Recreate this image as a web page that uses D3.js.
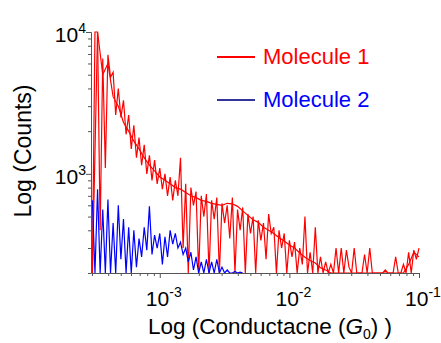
<!DOCTYPE html>
<html>
<head>
<meta charset="utf-8">
<script src="https://cdn.jsdelivr.net/npm/d3@7"></script>
<style>
  body { margin: 0; background: #fff; }
  svg { display: block; font-family: "Liberation Sans", Arial, sans-serif; }
</style>
</head>
<body>
<div id="chart"></div>
<script>
// bins are log-spaced; values are counts
const binStart = -3.52
const fineStep = 0.02
const coarseStep = 0.04

// Molecule 1, spiky run
const molecule1Spiky = [
  150, 10000, 10000, 400, 6500, 1100, 6900, 4800, 5200, 2600,
  4000, 2500, 3300, 1900, 2600, 1500, 2200, 1300, 1800, 1150,
  1600, 1000, 1350, 900, 1250, 850, 1100, 780, 1000, 700,
  950, 650, 900, 700, 1300, 300, 850, 200, 800, 600,
  750, 180, 700, 500, 720, 150, 650, 480, 680, 160,
  620, 450, 600, 350, 680, 170, 560, 400, 580, 200,
  520, 380, 500, 160, 470, 340, 450, 250, 520, 380,
  420, 200, 400, 300, 380, 180, 340, 260, 330, 150,
  300, 230, 500, 190, 280, 200, 420, 150, 260, 200,
  240, 150, 230, 150, 300, 150, 300, 150, 290, 220,
  150, 300, 150, 150, 150, 270, 150, 300, 150, 150,
  150, 150, 150, 210, 150, 150, 150, 260, 150, 150,
  230, 150, 280, 200, 290, 250, 300
]

// Molecule 1, smoother run
const molecule1Smooth = [
  150, 10000, 5000, 6000, 3500, 3000, 2300, 2000, 1700, 1500,
  1300, 1150, 1050, 950, 900, 850, 800, 780, 740, 700,
  680, 650, 640, 620, 610, 600, 620, 615, 590, 548,
  510, 475, 455, 420, 400, 380, 355, 336, 315, 300,
  277, 258, 245, 235, 218, 210, 200, 150, 150, 150,
  150, 150, 150, 150, 150, 150, 150, 150, 150, 150,
  150, 230, 280, 260
]

// Molecule 2
const molecule2 = [
  650, 150, 780, 150, 560, 200, 660, 150, 450, 170,
  600, 250, 480, 150, 420, 180, 400, 220, 350, 260,
  420, 290, 590, 270, 370, 300, 380, 230, 360, 260,
  400, 320, 380, 300, 330, 270, 300, 240, 280, 210,
  260, 150, 240, 180, 250, 170, 240, 150, 250, 160,
  220, 150, 210, 150, 150, 205, 150, 203, 150
]

const legendItems = [
  { name: 'Molecule 1', line: '#ff0000', text: '#ff0000' },
  { name: 'Molecule 2', line: '#333399', text: '#0000ff' }
]

const xMajor = [1e-3, 1e-2, 1e-1]
const yMajor = [1e3, 1e4]

const width = 441
const height = 343
const margin = { top: 32, right: 22, bottom: 70, left: 91 }

const svg = d3.select('#chart')
  .append('svg')
  .attr('width', width)
  .attr('height', height)

const x = d3.scaleLog()
  .domain([3e-4, 1e-1])
  .range([margin.left + 1, width - margin.right])

const y = d3.scaleLog()
  .domain([200, 1e4])
  .range([height - margin.bottom, margin.top])
  .clamp(true)

const toSeries = (values, step) => values.map((v, i) => ({ g: Math.pow(10, binStart + i * step), v }))

// Clip for data
svg.append('defs').append('clipPath').attr('id', 'plot-clip')
  .append('rect')
  .attr('x', margin.left)
  .attr('y', margin.top - 2)
  .attr('width', width - margin.right - margin.left + 1)
  .attr('height', height - margin.bottom - margin.top + 2)

const line = d3.line()
  .x(d => x(d.g))
  .y(d => y(d.v))

const plot = svg.append('g').attr('clip-path', 'url(#plot-clip)')

plot.append('path')
  .datum(toSeries(molecule1Smooth, coarseStep))
  .attr('fill', 'none')
  .attr('stroke', '#ff0000')
  .attr('stroke-width', 1.2)
  .attr('d', line)

plot.append('path')
  .datum(toSeries(molecule1Spiky, fineStep))
  .attr('fill', 'none')
  .attr('stroke', '#ff0000')
  .attr('stroke-width', 1.2)
  .attr('d', line)

plot.append('path')
  .datum(toSeries(molecule2, fineStep))
  .attr('fill', 'none')
  .attr('stroke', '#0000ff')
  .attr('stroke-width', 1.2)
  .attr('d', line)

// Minor ticks
const xMinor = []
;[1e-4, 1e-3, 1e-2].forEach(base => {
  for (let k = 2; k <= 9; k++) {
    const t = base * k
    if (t >= 3e-4 && t < 1e-1) xMinor.push(t)
  }
})
const yMinor = []
;[1e2, 1e3].forEach(base => {
  for (let k = 2; k <= 9; k++) yMinor.push(base * k)
})

const axisColor = '#555'
const styleAxis = g => {
  g.select('.domain').attr('stroke', axisColor)
  g.selectAll('.tick line').attr('stroke', axisColor)
  g.selectAll('.tick text').remove()
}

svg.append('g')
  .attr('transform', `translate(0,${height - margin.bottom})`)
  .call(d3.axisBottom(x).tickValues(xMinor).tickSize(3).tickSizeOuter(0))
  .call(styleAxis)

svg.append('g')
  .attr('transform', `translate(0,${height - margin.bottom})`)
  .call(d3.axisBottom(x).tickValues(xMajor).tickSize(5).tickSizeOuter(0))
  .call(styleAxis)

svg.append('g')
  .attr('transform', `translate(${margin.left},0)`)
  .call(d3.axisLeft(y).tickValues(yMinor).tickSize(3).tickSizeOuter(0))
  .call(styleAxis)

svg.append('g')
  .attr('transform', `translate(${margin.left},0)`)
  .call(d3.axisLeft(y).tickValues(yMajor).tickSize(5).tickSizeOuter(0))
  .call(styleAxis)

// Power-of-ten labels
const powLabel = (sel, exp) => {
  sel.append('tspan').text('10')
  sel.append('tspan')
    .attr('font-size', 14)
    .attr('dy', -9)
    .text(exp)
}

xMajor.forEach(t => {
  svg.append('text')
    .attr('x', x(t) + 4)
    .attr('y', 306)
    .attr('text-anchor', 'middle')
    .attr('font-size', 21)
    .attr('fill', '#000')
    .call(powLabel, String(Math.round(Math.log10(t))))
})

yMajor.forEach(t => {
  svg.append('text')
    .attr('x', 86)
    .attr('y', y(t) + 10)
    .attr('text-anchor', 'end')
    .attr('font-size', 21)
    .attr('fill', '#000')
    .call(powLabel, String(Math.round(Math.log10(t))))
})

// Axis titles
svg.append('text')
  .attr('transform', 'translate(31,151) rotate(-90)')
  .attr('text-anchor', 'middle')
  .attr('font-size', 23)
  .attr('fill', '#000')
  .text('Log (Counts)')

const xTitle = svg.append('text')
  .attr('x', 270)
  .attr('y', 334)
  .attr('text-anchor', 'middle')
  .attr('font-size', 22.5)
  .attr('fill', '#000')
xTitle.append('tspan').text('Log (Conductacne (')
xTitle.append('tspan').attr('font-style', 'italic').text('G')
xTitle.append('tspan').attr('font-size', 14).attr('dy', 5).text('0')
xTitle.append('tspan').attr('dy', -5).text(') )')

// Legend
const legend = svg.append('g').selectAll('g')
  .data(legendItems)
  .join('g')
  .attr('transform', (_d, i) => `translate(217,${57 + i * 43})`)

legend.append('line')
  .attr('x1', 0)
  .attr('x2', 38)
  .attr('stroke', d => d.line)
  .attr('stroke-width', 2)

legend.append('text')
  .attr('x', 46)
  .attr('y', 7)
  .attr('font-size', 22)
  .attr('fill', d => d.text)
  .text(d => d.name)
</script>
</body>
</html>
